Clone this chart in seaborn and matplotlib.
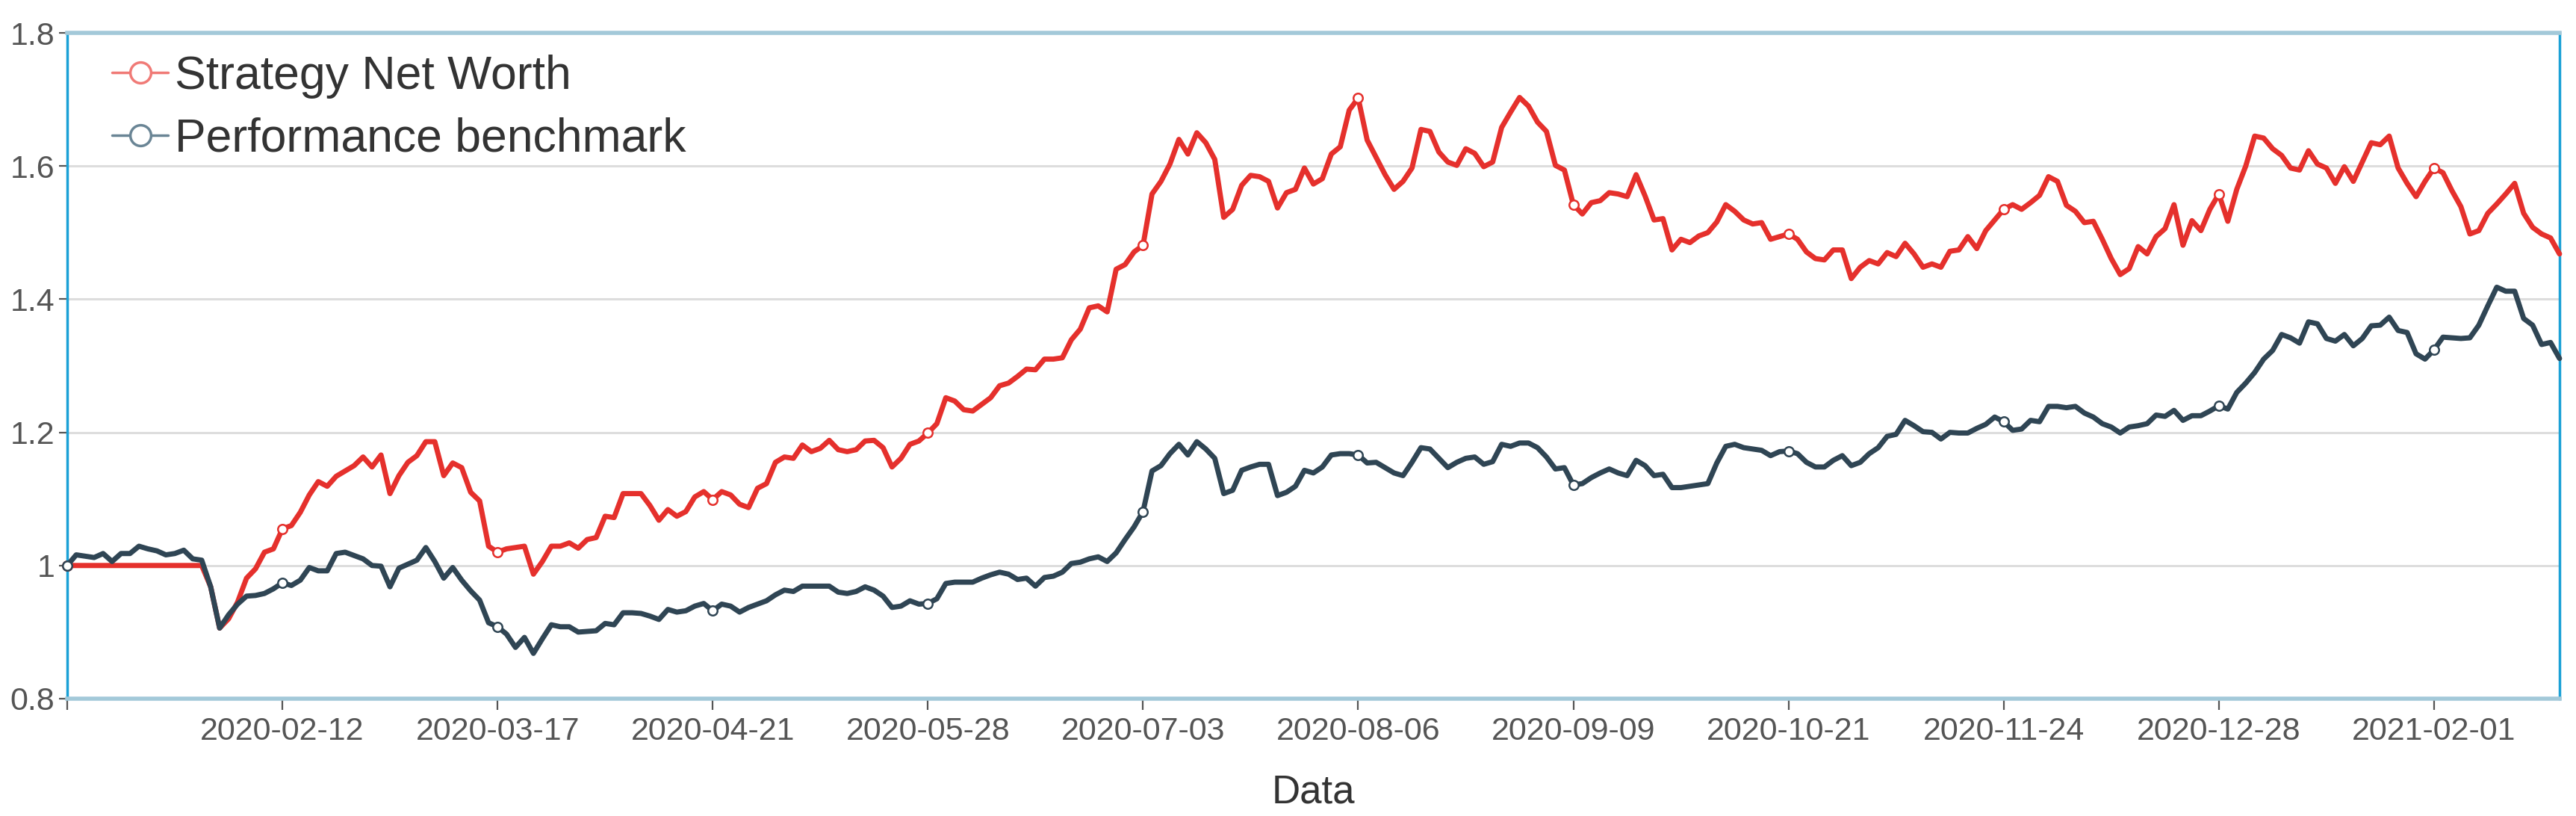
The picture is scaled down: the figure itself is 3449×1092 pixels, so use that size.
import matplotlib
matplotlib.use('Agg')
from matplotlib import pyplot as plt
from matplotlib.lines import Line2D
import pandas as pd
import numpy as np
import seaborn as sns

# net worth per trading day (index 0 = first trading day)
strategy = [
    1.000, 1.000, 1.000, 1.000, 1.000, 1.000, 1.000, 1.000, 1.000, 1.000,
    1.000, 1.000, 1.000, 1.000, 1.000, 1.000, 0.968, 0.906, 0.920, 0.945,
    0.981, 0.995, 1.020, 1.025, 1.055, 1.060, 1.080, 1.106, 1.126, 1.119,
    1.134, 1.142, 1.150, 1.163, 1.148, 1.166, 1.108, 1.135, 1.155, 1.165,
    1.186, 1.186, 1.135, 1.154, 1.147, 1.110, 1.097, 1.029, 1.020, 1.025,
    1.027, 1.029, 0.987, 1.006, 1.029, 1.029, 1.034, 1.026, 1.039, 1.042,
    1.074, 1.072, 1.108, 1.108, 1.108, 1.090, 1.068, 1.084, 1.074, 1.081,
    1.103, 1.111, 1.099, 1.111, 1.106, 1.092, 1.087, 1.116, 1.123, 1.155,
    1.163, 1.161, 1.181, 1.171, 1.176, 1.188, 1.174, 1.171, 1.174, 1.187,
    1.188, 1.177, 1.148, 1.161, 1.182, 1.187, 1.199, 1.213, 1.252, 1.247,
    1.234, 1.232, 1.242, 1.252, 1.270, 1.274, 1.284, 1.295, 1.294, 1.310,
    1.310, 1.312, 1.339, 1.355, 1.387, 1.390, 1.381, 1.445, 1.452, 1.471,
    1.481, 1.558, 1.577, 1.603, 1.640, 1.618, 1.650, 1.635, 1.610, 1.523,
    1.535, 1.571, 1.586, 1.584, 1.577, 1.537, 1.560, 1.565, 1.597, 1.573,
    1.581, 1.618, 1.629, 1.684, 1.702, 1.639, 1.613, 1.587, 1.565, 1.577,
    1.597, 1.655, 1.652, 1.621, 1.606, 1.601, 1.626, 1.619, 1.599, 1.606,
    1.658, 1.681, 1.703, 1.690, 1.666, 1.652, 1.601, 1.594, 1.542, 1.528,
    1.545, 1.548, 1.560, 1.558, 1.554, 1.587, 1.555, 1.519, 1.521, 1.474,
    1.490, 1.485, 1.495, 1.500, 1.516, 1.542, 1.532, 1.519, 1.513, 1.515,
    1.490, 1.494, 1.498, 1.490, 1.471, 1.461, 1.459, 1.474, 1.474, 1.431,
    1.448, 1.458, 1.453, 1.470, 1.464, 1.484, 1.468, 1.448, 1.453, 1.448,
    1.472, 1.474, 1.494, 1.476, 1.503, 1.519, 1.535, 1.542, 1.535, 1.545,
    1.556, 1.584, 1.577, 1.541, 1.532, 1.515, 1.517, 1.490, 1.461, 1.437,
    1.446, 1.479, 1.468, 1.494, 1.506, 1.542, 1.481, 1.518, 1.503, 1.535,
    1.558, 1.517, 1.565, 1.600, 1.645, 1.642, 1.626, 1.616, 1.597, 1.594,
    1.623, 1.603, 1.597, 1.574, 1.599, 1.577, 1.606, 1.635, 1.632, 1.645,
    1.597, 1.574, 1.554, 1.577, 1.597, 1.590, 1.563, 1.539, 1.498, 1.503,
    1.529, 1.543, 1.558, 1.574, 1.529, 1.508, 1.498, 1.492, 1.468,
]

benchmark = [
    1.000, 1.016, 1.014, 1.012, 1.018, 1.006, 1.018, 1.018, 1.029, 1.025,
    1.022, 1.016, 1.018, 1.023, 1.010, 1.008, 0.968, 0.906, 0.926, 0.942,
    0.954, 0.955, 0.958, 0.965, 0.974, 0.970, 0.978, 0.997, 0.992, 0.992,
    1.018, 1.020, 1.015, 1.010, 1.000, 0.999, 0.968, 0.996, 1.002, 1.008,
    1.027, 1.006, 0.981, 0.997, 0.978, 0.962, 0.948, 0.914, 0.908, 0.897,
    0.877, 0.892, 0.868, 0.890, 0.911, 0.908, 0.908, 0.900, 0.901, 0.902,
    0.913, 0.911, 0.929, 0.929, 0.928, 0.924, 0.919, 0.934, 0.930, 0.932,
    0.939, 0.943, 0.932, 0.942, 0.939, 0.930, 0.937, 0.942, 0.947, 0.956,
    0.963, 0.961, 0.969, 0.969, 0.969, 0.969, 0.960, 0.958, 0.961, 0.968,
    0.963, 0.954, 0.937, 0.939, 0.947, 0.942, 0.943, 0.950, 0.973, 0.975,
    0.975, 0.975, 0.981, 0.986, 0.990, 0.987, 0.979, 0.981, 0.969, 0.982,
    0.984, 0.990, 1.003, 1.005, 1.010, 1.013, 1.006, 1.019, 1.039, 1.058,
    1.081, 1.142, 1.150, 1.168, 1.182, 1.166, 1.186, 1.175, 1.161, 1.108,
    1.113, 1.143, 1.148, 1.152, 1.152, 1.105, 1.110, 1.119, 1.143, 1.139,
    1.148, 1.166, 1.168, 1.168, 1.166, 1.154, 1.155, 1.147, 1.139, 1.135,
    1.155, 1.177, 1.175, 1.161, 1.147, 1.155, 1.161, 1.163, 1.152, 1.156,
    1.182, 1.179, 1.184, 1.184, 1.177, 1.163, 1.145, 1.147, 1.121, 1.123,
    1.132, 1.139, 1.145, 1.139, 1.135, 1.158, 1.150, 1.135, 1.137, 1.117,
    1.117, 1.119, 1.121, 1.123, 1.154, 1.179, 1.182, 1.177, 1.175, 1.173,
    1.165, 1.171, 1.172, 1.168, 1.155, 1.148, 1.148, 1.158, 1.165, 1.150,
    1.155, 1.168, 1.177, 1.194, 1.197, 1.218, 1.210, 1.201, 1.200, 1.190,
    1.200, 1.199, 1.199, 1.206, 1.212, 1.223, 1.216, 1.203, 1.205, 1.218,
    1.216, 1.239, 1.239, 1.237, 1.239, 1.229, 1.223, 1.213, 1.208, 1.199,
    1.208, 1.210, 1.213, 1.226, 1.224, 1.233, 1.218, 1.225, 1.225, 1.232,
    1.240, 1.235, 1.260, 1.274, 1.290, 1.310, 1.323, 1.347, 1.342, 1.334,
    1.366, 1.363, 1.341, 1.337, 1.347, 1.330, 1.341, 1.360, 1.361, 1.373,
    1.353, 1.350, 1.318, 1.310, 1.324, 1.343, 1.342, 1.341, 1.342, 1.361,
    1.390, 1.418, 1.412, 1.412, 1.371, 1.361, 1.332, 1.335, 1.311,
]

x_labels = ['', '2020-02-12', '2020-03-17', '2020-04-21', '2020-05-28', '2020-07-03',
            '2020-08-06', '2020-09-09', '2020-10-21', '2020-11-24', '2020-12-28',
            '2021-02-01']
y_ticks = [0.8, 1.0, 1.2, 1.4, 1.6, 1.8]
y_labels = ['0.8', '1', '1.2', '1.4', '1.6', '1.8']
series_names = ['Strategy Net Worth', 'Performance benchmark']

red = '#E5302C'
navy = '#2F4554'
step = 24  # label interval (trading days)

df = pd.DataFrame({'day': np.arange(len(strategy)),
                   'strategy': strategy,
                   'benchmark': benchmark})

sns.set_style('white')
plt.rcParams['font.family'] = ['Liberation Sans', 'DejaVu Sans']

fig = plt.figure(figsize=(34.49, 10.92), dpi=100)
ax = fig.add_axes([0.0261, 0.1438, 0.9675, 0.8159])

for col, c in [('strategy', red), ('benchmark', navy)]:
    sns.lineplot(data=df, x='day', y=col, ax=ax, color=c, linewidth=5,
                 marker='o', markevery=step, markersize=9,
                 markerfacecolor='white', markeredgecolor=c, markeredgewidth=1.8,
                 clip_on=False, zorder=3)

ax.set_xlim(0, len(strategy) - 1)
ax.set_ylim(0.8, 1.8)
ax.set_xticks(np.arange(0, step * len(x_labels), step))
ax.set_xticklabels(x_labels)
ax.set_yticks(y_ticks)
ax.set_yticklabels(y_labels)
ax.tick_params(axis='x', length=11, width=1.6, color='#555555', labelsize=31,
               labelcolor='#555555', pad=6, direction='out', bottom=True)
ax.tick_params(axis='y', length=8, width=1.6, color='#555555', labelsize=31,
               labelcolor='#555555', pad=4, direction='out', left=True)

ax.grid(axis='y', color='#DDDDDD', linewidth=2.2)
ax.grid(axis='x', visible=False)
ax.set_axisbelow(True)

for s in ['left', 'right']:
    ax.spines[s].set_color('#1BA1D6')
    ax.spines[s].set_linewidth(2.5)
for s in ['top', 'bottom']:
    ax.spines[s].set_color('#A3C9D9')
    ax.spines[s].set_linewidth(4)

ax.set_ylabel('')
ax.set_xlabel('Data', fontsize=38, color='#333333')
ax.xaxis.set_label_coords(0.5, -0.113)

handles = [Line2D([], [], color='#F07A76', lw=2.5, marker='o', markersize=20,
                  markerfacecolor='white', markeredgecolor='#F07A76', markeredgewidth=2.5),
           Line2D([], [], color='#6A8595', lw=2.5, marker='o', markersize=20,
                  markerfacecolor='white', markeredgecolor='#6A8595', markeredgewidth=2.5)]
ax.legend(handles, series_names, loc='upper left', bbox_to_anchor=(0.018, 0.968),
          frameon=False, fontsize=45, handlelength=1.2, handletextpad=0.15,
          labelspacing=0.4, borderaxespad=0, borderpad=0, labelcolor='#333333')

fig.savefig('out.png', dpi=100)
